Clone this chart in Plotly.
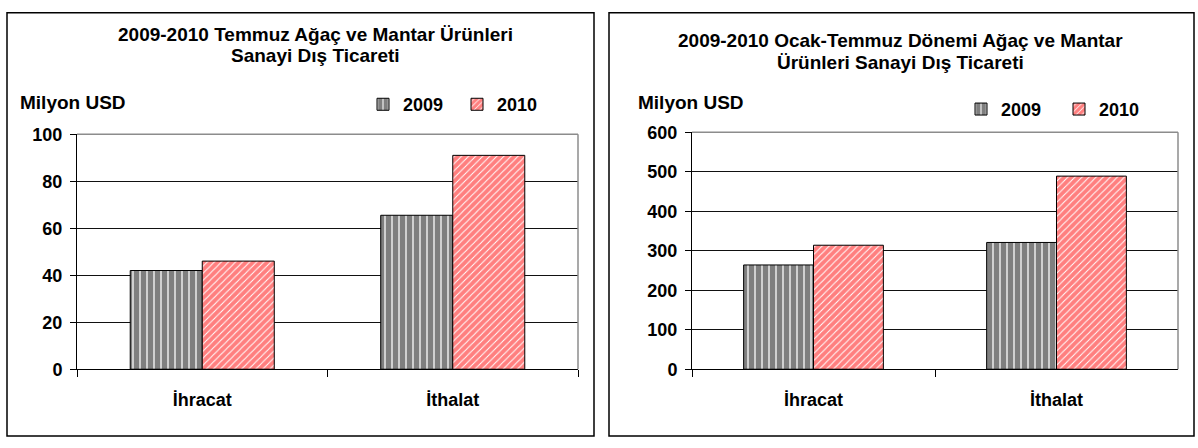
import plotly.graph_objects as go

W, H = 1198, 448
FONT = "Liberation Sans, Arial, sans-serif"

categories = ["İhracat", "İthalat"]
years = ["2009", "2010"]

# Temmuz (July) foreign trade, million USD
temmuz_2009 = [42, 65.5]
temmuz_2010 = [46, 91]

# Ocak-Temmuz (Jan-July) foreign trade, million USD
ocak_temmuz_2009 = [264, 321]
ocak_temmuz_2010 = [314, 489]


def px_x(v):
    return v / W


def px_y(v):
    return 1 - v / H


def bar(name, y, xaxis, yaxis, legend, shape, color, size, solidity):
    return go.Bar(
        x=categories, y=y, name=name, xaxis=xaxis, yaxis=yaxis, legend=legend,
        marker=dict(
            color="white",
            line=dict(color="black", width=1),
            pattern=dict(shape=shape, fgcolor=color, bgcolor="white",
                         size=size, solidity=solidity),
        ),
    )


fig = go.Figure()
fig.add_trace(bar(years[0], temmuz_2009, "x", "y", "legend", "|", "black", 7, 0.82))
fig.add_trace(bar(years[1], temmuz_2010, "x", "y", "legend", "/", "#ff0000", 5, 0.8))
fig.add_trace(bar(years[0], ocak_temmuz_2009, "x2", "y2", "legend2", "|", "black", 7, 0.82))
fig.add_trace(bar(years[1], ocak_temmuz_2010, "x2", "y2", "legend2", "/", "#ff0000", 5, 0.8))

tick_font = dict(family=FONT, size=18, color="black", weight="bold")

xaxis_common = dict(
    type="category", showline=True, linecolor="black", linewidth=1,
    ticks="outside", tickson="boundaries", ticklen=7, tickcolor="black",
    showgrid=False, tickfont=tick_font, ticklabelstandoff=14, fixedrange=True,
)
yaxis_common = dict(
    showline=True, linecolor="black", linewidth=1, ticks="outside",
    ticklen=6, tickcolor="black", showgrid=True, gridcolor="#111111",
    gridwidth=1, zeroline=False, tickfont=tick_font, ticklabelstandoff=4,
    fixedrange=True,
)

fig.update_layout(
    width=W, height=H,
    margin=dict(l=0, r=0, t=0, b=0),
    paper_bgcolor="white", plot_bgcolor="white",
    barmode="group", bargap=0.425, bargroupgap=0,
    font=dict(family=FONT, color="black"),
    xaxis=dict(domain=[px_x(77), px_x(578)], anchor="y", **xaxis_common),
    yaxis=dict(domain=[px_y(376), px_y(130)], anchor="x", range=[0, 100],
               dtick=20, **yaxis_common),
    xaxis2=dict(domain=[px_x(692), px_x(1178)], anchor="y2", **xaxis_common),
    yaxis2=dict(domain=[px_y(376), px_y(128)], anchor="x2", range=[0, 600],
                dtick=100, **yaxis_common),
    legend=dict(orientation="h", x=px_x(363), xanchor="left",
                y=px_y(99), yanchor="middle", entrywidth=49,
                entrywidthmode="pixels", bgcolor="rgba(0,0,0,0)",
                font=dict(family=FONT, size=18, color="black", weight="bold")),
    legend2=dict(orientation="h", x=px_x(961), xanchor="left",
                 y=px_y(104), yanchor="middle", entrywidth=53,
                 entrywidthmode="pixels", bgcolor="rgba(0,0,0,0)",
                 font=dict(family=FONT, size=18, color="black", weight="bold")),
)

title_font = dict(family=FONT, size=19, color="black", weight="bold")
label_font = dict(family=FONT, size=19, color="black", weight="bold")

titles = [
    ("2009-2010 Temmuz Ağaç ve Mantar Ürünleri", 315, 26),
    ("Sanayi Dış Ticareti", 315, 48),
    ("2009-2010 Ocak-Temmuz Dönemi Ağaç ve Mantar", 900, 32),
    ("Ürünleri Sanayi Dış Ticareti", 900, 55),
]
for text, cx, cy in titles:
    fig.add_annotation(text=text, x=px_x(cx), y=px_y(cy), xref="paper",
                       yref="paper", xanchor="center", yanchor="middle",
                       showarrow=False, font=title_font)

for lx, ly in [(18, 97), (636, 97)]:
    fig.add_annotation(text="Milyon USD", x=px_x(lx), y=px_y(ly), xref="paper",
                       yref="paper", xanchor="left", yanchor="middle",
                       showarrow=False, font=label_font)

# outer chart frames
for x0, x1 in [(7, 594), (609, 1194)]:
    fig.add_shape(type="rect", xref="paper", yref="paper",
                  x0=px_x(x0), x1=px_x(x1), y0=px_y(446), y1=px_y(3),
                  line=dict(color="black", width=1.5), fillcolor="rgba(0,0,0,0)")

# grey plot-area border on top and right
for xd, yd in [("x domain", "y domain"), ("x2 domain", "y2 domain")]:
    fig.add_shape(type="line", xref=xd, yref=yd, x0=0, x1=1, y0=1, y1=1,
                  line=dict(color="#8c8c8c", width=1.5))
    fig.add_shape(type="line", xref=xd, yref=yd, x0=1, x1=1, y0=0, y1=1,
                  line=dict(color="#8c8c8c", width=1.5))

# pin the figure to the page corner so the screenshot lines up
pin_js = """
var gd = document.getElementById('{plot_id}');
document.documentElement.style.margin = '0';
document.body.style.margin = '0';
document.documentElement.style.overflow = 'hidden';
document.body.style.overflow = 'hidden';
gd.style.position = 'fixed';
gd.style.top = '0';
gd.style.left = '0';
"""

fig.write_html("out.html", config={"displayModeBar": False},
               post_script=pin_js)
